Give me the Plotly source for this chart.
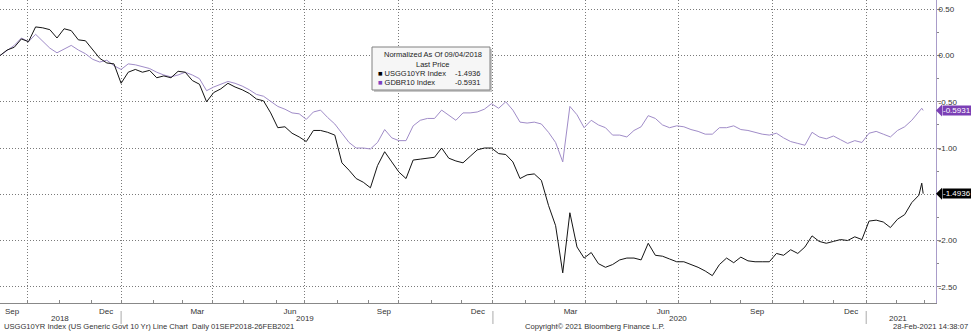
import pandas as pd
import plotly.graph_objects as go

# ---------------- data ----------------
# weekly observations (Tuesdays) plus the last two trading days
dates = list(pd.date_range("2018-09-04", periods=130, freq="7D").strftime("%Y-%m-%d")) + ["2021-02-25", "2021-02-26"]

usgg10yr = [
    0.00, 0.06, 0.09, 0.18, 0.15, 0.31, 0.30, 0.28, 0.19, 0.29,
    0.27, 0.17, 0.16, 0.06, -0.03, -0.08, -0.09, -0.30, -0.18, -0.15,
    -0.18, -0.16, -0.24, -0.22, -0.24, -0.17, -0.18, -0.27, -0.31, -0.50,
    -0.40, -0.36, -0.30, -0.34, -0.37, -0.41, -0.47, -0.49, -0.62, -0.78,
    -0.77, -0.84, -0.88, -0.93, -0.81, -0.81, -0.83, -0.86, -1.16, -1.24,
    -1.33, -1.37, -1.43, -1.19, -1.04, -1.15, -1.26, -1.33, -1.13, -1.12,
    -1.11, -1.10, -1.00, -1.11, -1.14, -1.16, -1.09, -1.02, -1.00, -1.00,
    -1.06, -1.07, -1.15, -1.33, -1.29, -1.28, -1.35, -1.62, -1.84, -2.35,
    -1.70, -2.07, -2.19, -2.13, -2.25, -2.29, -2.26, -2.21, -2.19, -2.19,
    -2.21, -2.03, -2.16, -2.17, -2.20, -2.23, -2.23, -2.26, -2.29, -2.33,
    -2.38, -2.26, -2.19, -2.24, -2.18, -2.22, -2.23, -2.23, -2.23, -2.14,
    -2.16, -2.10, -2.14, -2.07, -1.95, -2.01, -2.03, -2.01, -1.99, -2.00,
    -1.96, -1.99, -1.79, -1.78, -1.80, -1.86, -1.77, -1.72, -1.59, -1.51,
    -1.38, -1.4936,
]

gdbr10 = [
    0.00, 0.06, 0.11, 0.19, 0.15, 0.23, 0.16, 0.08, 0.03, 0.07,
    0.11, 0.06, 0.02, -0.04, -0.07, -0.05, -0.11, -0.15, -0.09, -0.10,
    -0.12, -0.14, -0.18, -0.21, -0.23, -0.21, -0.18, -0.21, -0.25, -0.38,
    -0.34, -0.31, -0.28, -0.30, -0.33, -0.37, -0.42, -0.44, -0.50, -0.55,
    -0.58, -0.62, -0.63, -0.69, -0.61, -0.59, -0.67, -0.74, -0.84, -0.94,
    -1.00, -1.00, -1.01, -0.94, -0.80, -0.89, -0.92, -0.92, -0.76, -0.70,
    -0.68, -0.68, -0.59, -0.65, -0.70, -0.62, -0.62, -0.61, -0.58, -0.52,
    -0.57, -0.50, -0.59, -0.72, -0.73, -0.72, -0.74, -0.83, -0.94, -1.15,
    -0.55, -0.64, -0.78, -0.70, -0.75, -0.78, -0.86, -0.86, -0.88, -0.81,
    -0.77, -0.65, -0.68, -0.75, -0.78, -0.76, -0.77, -0.80, -0.82, -0.85,
    -0.85, -0.78, -0.78, -0.76, -0.80, -0.81, -0.83, -0.85, -0.86, -0.84,
    -0.89, -0.93, -0.95, -0.97, -0.83, -0.88, -0.90, -0.87, -0.91, -0.95,
    -0.92, -0.94, -0.84, -0.82, -0.85, -0.88, -0.81, -0.77, -0.70, -0.61,
    -0.57, -0.5931,
]

series_names = ["USGG10YR Index", "GDBR10 Index"]
last_usgg = usgg10yr[-1]
last_gdbr = gdbr10[-1]

quarter_bounds = ["2018-10-01", "2019-01-01", "2019-04-01", "2019-07-01", "2019-10-01",
                  "2020-01-01", "2020-04-01", "2020-07-01", "2020-10-01", "2021-01-01"]
quarter_labels = ["Sep", "Dec", "Mar", "Jun", "Sep", "Dec", "Mar", "Jun", "Sep", "Dec"]
month_starts = list(pd.date_range("2018-10-01", "2021-03-01", freq="BMS").strftime("%Y-%m-%d"))
year_labels = ["2018", "2019", "2020", "2021"]
year_label_dates = ["2018-11-01", "2019-07-01", "2020-07-01", "2021-02-02"]
year_bounds = ["2019-01-01", "2020-01-01", "2021-01-01"]
y_ticks = [0.5, 0.0, -0.5, -1.0, -1.5, -2.0, -2.5]
# the -1.50 label is hidden behind the last-price tag in the original
y_ticktext = ["0.50", "0.00", "-0.50", "-1.00", "", "-2.00", "-2.50"]

# ---------------- styles ----------------
BLACK = "#141414"
PURPLE_LINE = "#a08cc8"
PURPLE_TAG = "#7b3fb5"
GRID = "#7a7a7a"
FONT = "Liberation Sans"
W, H = 971, 332
ML, MR, MT, MB = 0, 35, 0, 29
PW, PH = W - ML - MR, H - MT - MB


def px(x):
    return x / PW


def py(y):
    return 1 - y / PH


fig = go.Figure()
fig.add_trace(go.Scatter(x=dates, y=gdbr10, mode="lines", name=series_names[1],
                         line=dict(color=PURPLE_LINE, width=1), hoverinfo="skip"))
fig.add_trace(go.Scatter(x=dates, y=usgg10yr, mode="lines", name=series_names[0],
                         line=dict(color=BLACK, width=1), hoverinfo="skip"))

annotations = []
shapes = []

# legend box
shapes.append(dict(type="rect", xref="paper", yref="paper", x0=px(374), x1=px(492), y0=py(92), y1=py(49),
                   fillcolor="#c8c8c8", line=dict(width=0), layer="above"))
shapes.append(dict(type="rect", xref="paper", yref="paper", x0=px(372), x1=px(490), y0=py(90), y1=py(47),
                   fillcolor="#f6f6f6", line=dict(color="#808080", width=1), layer="above"))
lf = dict(family=FONT, size=7.5, color="#222")
annotations.append(dict(xref="paper", yref="paper", x=px(432.5), y=py(55), text="Normalized As Of 09/04/2018",
                        showarrow=False, font=lf, xanchor="center", yanchor="middle"))
annotations.append(dict(xref="paper", yref="paper", x=px(432.5), y=py(64), text="Last Price",
                        showarrow=False, font=lf, xanchor="center", yanchor="middle"))
for name, col, val, yy in [(series_names[0], "#000000", last_usgg, 73.5),
                           (series_names[1], "#8040c0", last_gdbr, 82.5)]:
    annotations.append(dict(xref="paper", yref="paper", x=px(376), y=py(yy),
                            text=f"<span style='color:{col}'>■</span> {name}",
                            showarrow=False, font=lf, xanchor="left", yanchor="middle"))
    annotations.append(dict(xref="paper", yref="paper", x=px(482), y=py(yy), text=f"{val:.4f}",
                            showarrow=False, font=lf, xanchor="right", yanchor="middle"))

# last value tags on the right axis
for val, col in [(last_gdbr, PURPLE_TAG), (last_usgg, "#000000")]:
    tip = 6 / PW
    shapes.append(dict(type="path", xref="paper", yref="y",
                       path=f"M 1,{val} L {1 + tip},{val + 0.065} L {1 + tip},{val - 0.065} Z",
                       fillcolor=col, line=dict(width=0), layer="above"))
    annotations.append(dict(xref="paper", yref="y", x=1 + tip, y=val, text=f"{val:.4f}", showarrow=False,
                            xanchor="left", yanchor="middle", bgcolor=col, borderpad=0,
                            font=dict(family=FONT, size=8, color="white")))

# year labels and separators
for lab, d in zip(year_labels, year_label_dates):
    annotations.append(dict(xref="x", yref="paper", x=d, y=py(318), text=lab, showarrow=False,
                            xanchor="center", yanchor="middle", font=dict(family=FONT, size=8, color="#333")))
for d in year_bounds:
    shapes.append(dict(type="line", xref="x", yref="paper", x0=d, x1=d, y0=py(311), y1=py(324),
                       line=dict(color="#aaaaaa", width=1)))

# footer
ff = dict(family=FONT, size=7.6, color="#333")
annotations.append(dict(xref="paper", yref="paper", x=px(2), y=py(326.5), xanchor="left", yanchor="middle",
                        text="USGG10YR Index (US Generic Govt 10 Yr) Line Chart \u00a0Daily 01SEP2018-26FEB2021",
                        showarrow=False, font=ff))
annotations.append(dict(xref="paper", yref="paper", x=px(595), y=py(326.5), xanchor="center", yanchor="middle",
                        text="Copyright© 2021 Bloomberg Finance L.P.", showarrow=False, font=ff))
annotations.append(dict(xref="paper", yref="paper", x=px(970), y=py(326.5), xanchor="right", yanchor="middle",
                        text="28-Feb-2021 14:38:07", showarrow=False, font=ff))

fig.update_layout(
    width=W, height=H,
    margin=dict(l=ML, r=MR, t=MT, b=MB),
    paper_bgcolor="white", plot_bgcolor="white",
    showlegend=False,
    xaxis=dict(
        type="date", range=["2018-09-04", "2021-03-11"],
        rangebreaks=[dict(bounds=["sat", "mon"])],
        tickmode="array", tickvals=quarter_bounds, ticktext=quarter_labels,
        ticks="", ticklabelshift=-15,
        showgrid=True, gridcolor=GRID, griddash="1px,2px", gridwidth=1,
        showline=True, linecolor="#888", linewidth=1, zeroline=False,
        tickfont=dict(family=FONT, size=8, color="#333"),
        minor=dict(tickmode="array", tickvals=month_starts, ticks="inside", ticklen=3,
                   tickcolor="#888", showgrid=False),
        fixedrange=True,
    ),
    yaxis=dict(
        side="right", range=[-2.676, 0.601],
        tickmode="array", tickvals=y_ticks, ticktext=y_ticktext,
        ticks="outside", ticklen=4, tickcolor="#888", ticklabelstandoff=-4,
        showgrid=True, gridcolor=GRID, griddash="1px,2px", gridwidth=1,
        showline=True, linecolor="#a99cc9", linewidth=1, zeroline=False,
        tickfont=dict(family=FONT, size=8, color="#333"),
        minor=dict(tickmode="linear", tick0=0, dtick=0.25, ticks="outside", ticklen=2,
                   tickcolor="#888", showgrid=False),
        fixedrange=True,
    ),
    annotations=annotations,
    shapes=shapes,
)

fig.write_html("out.html")
